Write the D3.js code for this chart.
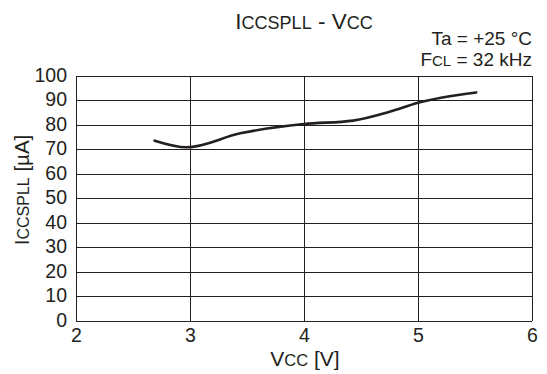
<!DOCTYPE html>
<html><head><meta charset="utf-8">
<script src="https://cdn.jsdelivr.net/npm/d3@7"></script>
<style>body{margin:0;background:#fff}svg{display:block}text{font-family:"Liberation Sans",Arial,sans-serif;fill:#231f20}</style>
</head><body><svg id="c" width="547" height="374"></svg>
<script>
const vcc = [2.69, 2.97, 3.44, 4.0, 4.43, 4.75, 5.0, 5.51];
const icc = [73.6, 70.9, 76.6, 80.4, 81.8, 85.4, 89.1, 93.3];
const xTicks = [2, 3, 4, 5, 6];
const yTicks = [0, 10, 20, 30, 40, 50, 60, 70, 80, 90, 100];

const svg = d3.select("#c");
const m = {l: 76, r: 532, t: 76, b: 321};
const x = d3.scaleLinear().domain([2, 6]).range([m.l, m.r]);
const y = d3.scaleLinear().domain([0, 100]).range([m.b, m.t]);
const ink = "#231f20";
const FF = '"Liberation Sans",Arial,sans-serif';

// grid
svg.append("g").selectAll("line").data(yTicks).join("line")
  .attr("x1", m.l).attr("x2", m.r).attr("y1", d => y(d)).attr("y2", d => y(d))
  .attr("stroke", ink).attr("stroke-width", 1).attr("shape-rendering", "crispEdges");
svg.append("g").selectAll("line").data(xTicks).join("line")
  .attr("y1", m.t).attr("y2", m.b).attr("x1", d => x(d)).attr("x2", d => x(d))
  .attr("stroke", ink).attr("stroke-width", 1).attr("shape-rendering", "crispEdges");

// axes labels
const xa = svg.append("g").attr("transform", `translate(0,${m.b})`)
  .call(d3.axisBottom(x).tickValues(xTicks).tickSize(0).tickPadding(7).tickFormat(d3.format("d")));
xa.select(".domain").remove();
xa.selectAll("text").attr("font-size", 19.5).style("fill", ink).attr("font-family", FF);
const ya = svg.append("g").attr("transform", `translate(${m.l},-1)`)
  .call(d3.axisLeft(y).tickValues(yTicks).tickSize(0).tickPadding(9).tickFormat(d3.format("d")));
ya.select(".domain").remove();
ya.selectAll("text").attr("font-size", 19.5).style("fill", ink).attr("font-family", FF);

// curve
const line = d3.line().x((d, i) => x(vcc[i])).y((d, i) => y(icc[i])).curve(d3.curveMonotoneX);
svg.append("path").datum(icc).attr("d", line).attr("fill", "none")
  .attr("stroke", ink).attr("stroke-width", 2.6).attr("stroke-linecap", "round");

// titles
function sc(t, x0, y0, anchor, parts) {
  const tx = t.append("text").attr("x", x0).attr("y", y0).attr("text-anchor", anchor);
  parts.forEach(p => tx.append("tspan").attr("font-size", p[1]).text(p[0]));
  return tx;
}
sc(svg, 304, 29, "middle", [["I", 22.5], ["CCSPLL", 18], [" - V", 22.5], ["CC", 18]]);
sc(svg, 532, 44.5, "end", [["Ta = +25 °C", 19]]);
sc(svg, 532, 65.5, "end", [["F", 19], ["CL", 15], [" = 32 kHz", 19]]);
sc(svg, 305, 366, "middle", [["V", 21], ["CC", 16.5], [" [V]", 21]]);
const yl = sc(svg, 0, 0, "middle", [["I", 20.5], ["CCSPLL", 16], [" [µA]", 20.5]]);
yl.attr("transform", "translate(29,190) rotate(-90)");
</script></body></html>
